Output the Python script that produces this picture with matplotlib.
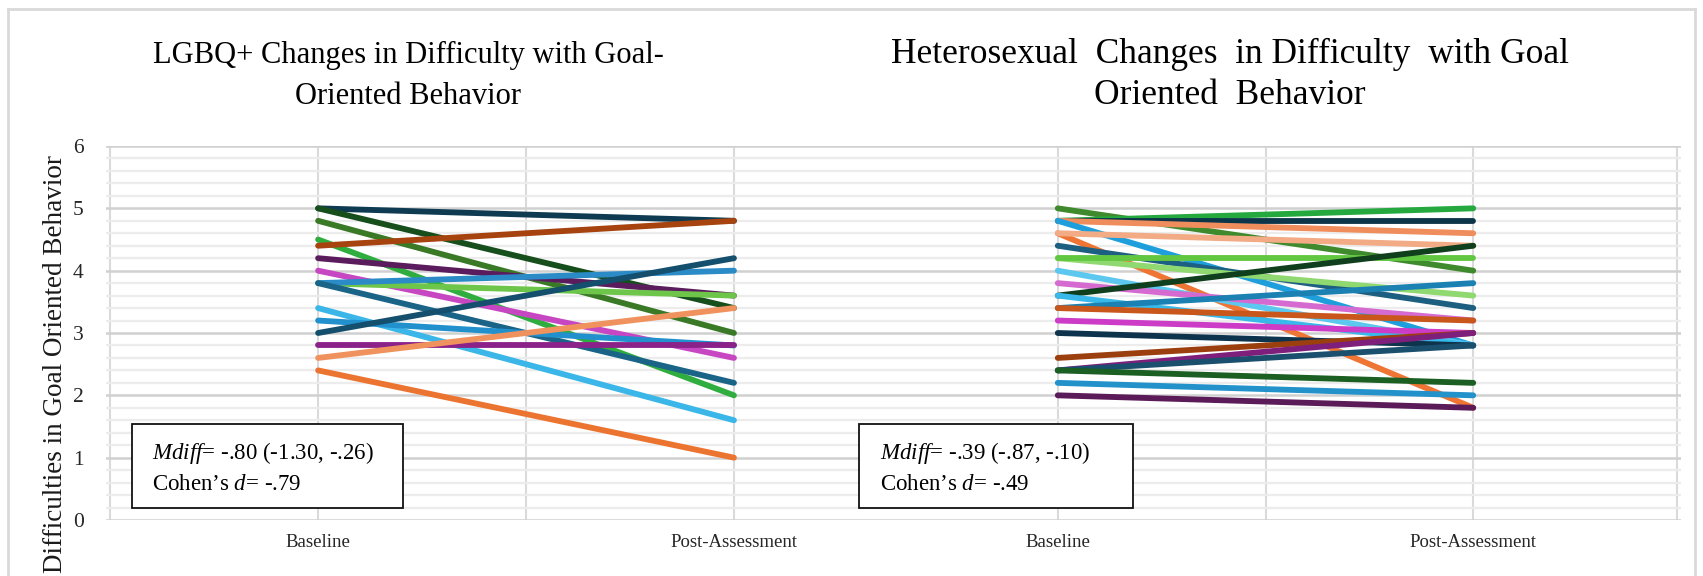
import matplotlib
matplotlib.use('Agg')
import matplotlib.pyplot as plt
from matplotlib.patches import Rectangle
from matplotlib.lines import Line2D

plt.rcParams['font.family'] = 'Liberation Serif'
plt.rcParams['mathtext.fontset'] = 'custom'
plt.rcParams['mathtext.rm'] = 'Liberation Serif'
plt.rcParams['mathtext.it'] = 'Liberation Serif:italic'

categories = ['Baseline', 'Post-Assessment']
y_label = 'Difficulties in Goal Oriented Behavior'

# LGBQ+ participants (baseline -> post)
lgbq_baseline = [5.0, 5.0, 4.8, 4.5, 4.4, 4.2, 4.0, 3.8, 3.8, 3.8, 3.4, 3.2, 3.0, 2.8, 2.6, 2.4]
lgbq_post = [4.8, 3.4, 3.0, 2.0, 4.8, 3.6, 2.6, 3.6, 4.0, 2.2, 1.6, 2.8, 4.2, 2.8, 3.4, 1.0]
lgbq_colors = ['#0e3b52', '#174f1c', '#3a7a27', '#2fae3f', '#a6430f', '#5b1c5d', '#c746c2', '#6dc64a',
               '#2a8bc6', '#1a6488', '#3ab6e8', '#2190cc', '#144f6d', '#8a2289', '#f0925e', '#ec7431']

# Heterosexual participants (baseline -> post)
het_baseline = [5.0, 4.8, 4.8, 4.8, 4.8, 4.6, 4.6, 4.4, 4.2, 4.2, 4.0, 3.8, 3.6, 3.6,
                3.4, 3.4, 3.2, 3.0, 2.6, 2.4, 2.4, 2.4, 2.2, 2.0]
het_post = [4.0, 5.0, 4.8, 4.6, 2.8, 1.8, 4.4, 3.4, 3.6, 4.2, 2.8, 3.2, 4.4, 2.8,
            3.8, 3.2, 3.0, 2.8, 3.0, 3.0, 2.8, 2.2, 2.0, 1.8]
het_colors = ['#3f8a2c', '#25a93f', '#0c3549', '#f08d5c', '#1e9fdc', '#ee7533', '#f2ab84', '#1c5f80',
              '#8fd970', '#62c740', '#5cc7ef', '#d56bd0', '#0f3f1c', '#38b9ea', '#1b80b2', '#c9561a',
              '#cc3cc6', '#0e344d', '#9c3f0f', '#7e1f7c', '#1b4f6e', '#1b5f22', '#2392cb', '#5b1a58']

W, H = 1703, 576
fig = plt.figure(figsize=(W / 100, H / 100), dpi=100)


def fx(px):
    return px / W


def fy(py):
    return 1 - py / H


def panel(left_px, right_px, xlim, vgrid, starts, ends, colors, show_y):
    ax = fig.add_axes([fx(left_px), fy(520), fx(right_px) - fx(left_px), fy(146) - fy(520)])
    ax.set_facecolor('white')
    ax.set_xlim(*xlim)
    ax.set_ylim(0, 6)
    ax.set_yticks(range(7))
    ax.set_yticks([i * 0.2 for i in range(31)], minor=True)
    ax.grid(which='minor', axis='y', color='#ececec', lw=1.6)
    ax.grid(which='major', axis='y', color='#d0d0d0', lw=1.8)
    for v in vgrid:
        ax.axvline(v, color='#dadada', lw=1.5, zorder=0.5)
    ax.set_axisbelow(True)
    for s, e, c in zip(starts, ends, colors):
        ax.plot([0, 1], [s, e], color=c, lw=4.2, solid_capstyle='round', zorder=3)
    ax.set_xticks([0, 1])
    ax.set_xticklabels(categories, fontsize=13.5, color='#262626')
    ax.tick_params(axis='x', length=0, pad=10)
    ax.tick_params(axis='y', which='both', length=0, pad=16, labelsize=15.5, labelcolor='#262626',
                   labelleft=show_y)
    for sp in ax.spines.values():
        sp.set_visible(False)
    return ax


ax1 = panel(106, 850, (-0.51, 1.279), [-0.5, 0, 0.5, 1], lgbq_baseline, lgbq_post, lgbq_colors, True)
ax2 = panel(850, 1681, (-0.5, 1.5), [0, 0.5, 1, 1.49], het_baseline, het_post, het_colors, False)

fig.text(fx(56), fy(364), y_label, rotation=90, ha='center', va='center', fontsize=19.5, color='#1a1a1a')

# titles
fig.text(fx(408), fy(63), 'LGBQ+ Changes in Difficulty with Goal-', ha='center', va='baseline', fontsize=22)
fig.text(fx(408), fy(104), 'Oriented Behavior', ha='center', va='baseline', fontsize=22)
fig.text(fx(1230), fy(63), 'Heterosexual  Changes  in Difficulty  with Goal', ha='center', va='baseline',
         fontsize=25.5)
fig.text(fx(1230), fy(104), 'Oriented  Behavior', ha='center', va='baseline', fontsize=25.5)

# stats boxes
boxes = [
    (132, 403, 152, r'$Mdiff$= -.80 (-1.30, -.26)', r'Cohen’s $d$= -.79'),
    (859, 1133, 880, r'$Mdiff$= -.39 (-.87, -.10)', r'Cohen’s $d$= -.49'),
]
for x0, x1, tx, l1, l2 in boxes:
    fig.add_artist(Rectangle((fx(x0), fy(508)), fx(x1) - fx(x0), fy(424) - fy(508),
                             transform=fig.transFigure, facecolor='white', edgecolor='#111111',
                             lw=1.3, zorder=5))
    fig.text(fx(tx), fy(459), l1, fontsize=16.5, va='baseline', zorder=6)
    fig.text(fx(tx), fy(490), l2, fontsize=16.5, va='baseline', zorder=6)

# outer chart frame
for xs, ys in [([8, 1695], [9, 9]), ([8, 8], [9, 576]), ([1695, 1695], [9, 576])]:
    fig.add_artist(Line2D([fx(x) for x in xs], [fy(y) for y in ys], transform=fig.transFigure,
                          color='#d9d9d9', lw=2))

fig.savefig('out.png', dpi=100, facecolor='white')
